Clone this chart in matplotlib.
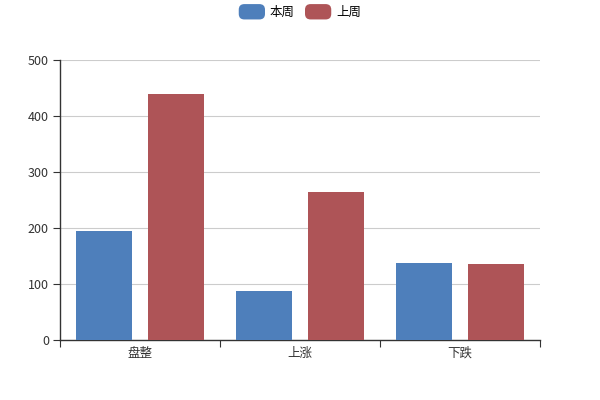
import matplotlib
matplotlib.use('Agg')
import matplotlib.pyplot as plt
from matplotlib.patches import FancyBboxPatch, Patch
from matplotlib.legend_handler import HandlerPatch
import numpy as np

plt.rcParams['font.family'] = ['Noto Sans CJK SC', 'DejaVu Sans']

# data
categories = ['盘整', '上涨', '下跌']
this_week = [195, 87, 138]
last_week = [440, 264, 136]
series_names = ['本周', '上周']
colors = ['#4e7fbb', '#ae5457']

fig = plt.figure(figsize=(6, 4), dpi=100)
ax = fig.add_axes([0.1, 0.15, 0.8, 0.7])

x = np.arange(len(categories))
w = 0.35
ax.bar(x - 0.225, this_week, width=w, color=colors[0], zorder=3)
ax.bar(x + 0.225, last_week, width=w, color=colors[1], zorder=3)

ax.set_xlim(-0.5, len(categories) - 0.5)
ax.set_ylim(0, 500)
ax.set_yticks([0, 100, 200, 300, 400, 500])
ax.yaxis.grid(True, color='#cccccc', linewidth=0.8, zorder=0)

# ticks at category boundaries, labels at centers
ax.set_xticks(np.arange(len(categories) + 1) - 0.5)
ax.set_xticklabels([])
ax.set_xticks(x, minor=True)
ax.set_xticklabels(categories, minor=True)
ax.tick_params(axis='x', which='major', length=5, color='#333333')
ax.tick_params(axis='x', which='minor', length=0, pad=5)
ax.tick_params(axis='y', length=5, color='#333333', pad=3)
ax.tick_params(which='both', labelsize=9, labelcolor='#333333')

for s in ['top', 'right']:
    ax.spines[s].set_visible(False)
for s in ['left', 'bottom']:
    ax.spines[s].set_color('#333333')
    ax.spines[s].set_linewidth(1)


class RoundHandler(HandlerPatch):
    def create_artists(self, legend, orig_handle, xdescent, ydescent,
                       width, height, fontsize, trans):
        p = FancyBboxPatch((-xdescent, -ydescent - 1.5), width, height + 3,
                           boxstyle='round,pad=0,rounding_size=4',
                           facecolor=orig_handle.get_facecolor(),
                           edgecolor='none', transform=trans)
        return [p]


handles = [Patch(facecolor=c) for c in colors]
fig.legend(handles, series_names, loc='upper center', bbox_to_anchor=(0.5, 1.013),
           ncol=2, frameon=False, fontsize=9, handlelength=2.1, handleheight=1.0,
           handletextpad=0.4, columnspacing=0.8,
           handler_map={Patch: RoundHandler()})

fig.savefig('out.png', dpi=100)
